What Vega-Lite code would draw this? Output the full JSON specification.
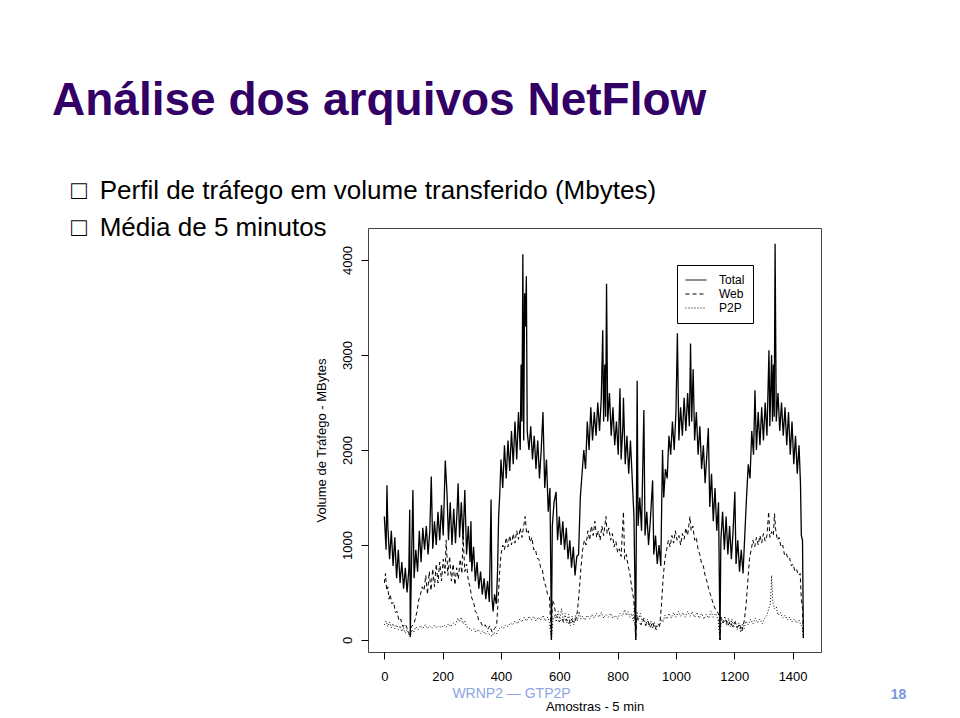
{
"$schema": "https://vega.github.io/schema/vega-lite/v6.json",
"width": 453, "height": 424,
"autosize": {"type": "none"},
"padding": {"left": 368, "top": 228, "right": 139, "bottom": 66},
"background": "white",
"title": {
  "text": "Análise dos arquivos NetFlow",
  "subtitle": ["\u2800□\u2002Perfil de tráfego em volume transferido (Mbytes)", "\u2800□\u2002Média de 5 minutos"],
  "anchor": "start", "frame": "group", "orient": "top",
  "dx": -316, "offset": -14,
  "font": "Liberation Sans", "fontSize": 46, "fontWeight": "bold", "color": "#330066",
  "subtitleFont": "Liberation Sans", "subtitleFontSize": 26, "subtitleColor": "black",
  "subtitleLineHeight": 37, "subtitlePadding": 53
},
"config": {
  "font": "Liberation Sans",
  "view": {"stroke": "#444", "strokeWidth": 1},
  "axis": {"grid": false, "domain": false, "tickColor": "black", "tickSize": 7, "labelColor": "black", "labelFontSize": 13, "titleFontSize": 13, "titleFontWeight": "normal", "titleColor": "black"}
},
"datasets": {
"total": [
{"t":0,"v":1300},{"t":6,"v":950},{"t":9,"v":1630},{"t":12,"v":1200},{"t":18,"v":850},{"t":24,"v":1150},{"t":30,"v":780},{"t":36,"v":1080},{"t":42,"v":650},{"t":48,"v":950},{"t":54,"v":600},{"t":60,"v":820},{"t":66,"v":540},{"t":72,"v":760},{"t":78,"v":500},{"t":84,"v":740},{"t":87,"v":1370},{"t":89,"v":35},{"t":92,"v":600},{"t":98,"v":1580},{"t":102,"v":650},{"t":108,"v":950},{"t":114,"v":720},{"t":120,"v":1150},{"t":126,"v":820},{"t":132,"v":1180},{"t":138,"v":950},{"t":144,"v":1200},{"t":150,"v":900},{"t":156,"v":1150},{"t":161,"v":1720},{"t":166,"v":960},{"t":172,"v":1250},{"t":178,"v":1000},{"t":184,"v":1350},{"t":190,"v":1050},{"t":196,"v":1420},{"t":202,"v":1100},{"t":209,"v":1890},{"t":215,"v":1540},{"t":220,"v":1050},{"t":226,"v":1450},{"t":232,"v":1000},{"t":238,"v":1380},{"t":244,"v":1020},{"t":250,"v":1400},{"t":253,"v":1650},{"t":258,"v":1080},{"t":264,"v":1450},{"t":270,"v":1050},{"t":276,"v":1580},{"t":282,"v":900},{"t":288,"v":1200},{"t":294,"v":820},{"t":297,"v":1250},{"t":300,"v":720},{"t":306,"v":980},{"t":312,"v":620},{"t":318,"v":820},{"t":324,"v":540},{"t":330,"v":720},{"t":336,"v":480},{"t":342,"v":650},{"t":348,"v":430},{"t":354,"v":620},{"t":360,"v":400},{"t":366,"v":1480},{"t":369,"v":450},{"t":373,"v":300},{"t":378,"v":480},{"t":384,"v":380},{"t":388,"v":700},{"t":392,"v":1300},{"t":396,"v":1550},{"t":400,"v":1900},{"t":406,"v":1600},{"t":412,"v":2050},{"t":418,"v":1700},{"t":424,"v":2100},{"t":430,"v":1780},{"t":436,"v":2200},{"t":442,"v":1850},{"t":448,"v":2300},{"t":454,"v":1900},{"t":460,"v":2400},{"t":466,"v":2000},{"t":469,"v":2900},{"t":472,"v":2300},{"t":475,"v":4060},{"t":478,"v":2100},{"t":481,"v":3650},{"t":484,"v":3300},{"t":487,"v":3830},{"t":490,"v":2200},{"t":496,"v":2000},{"t":502,"v":2250},{"t":508,"v":1900},{"t":514,"v":2150},{"t":520,"v":1800},{"t":526,"v":2100},{"t":532,"v":1700},{"t":538,"v":2000},{"t":544,"v":2400},{"t":550,"v":1600},{"t":556,"v":1900},{"t":562,"v":1350},{"t":568,"v":1600},{"t":573,"v":0},{"t":576,"v":1200},{"t":582,"v":1450},{"t":589,"v":1560},{"t":594,"v":1050},{"t":600,"v":1300},{"t":606,"v":1000},{"t":612,"v":1250},{"t":618,"v":950},{"t":624,"v":1180},{"t":630,"v":850},{"t":636,"v":1050},{"t":642,"v":760},{"t":648,"v":980},{"t":654,"v":680},{"t":660,"v":880},{"t":666,"v":900},{"t":672,"v":1500},{"t":678,"v":1750},{"t":684,"v":2000},{"t":690,"v":1800},{"t":696,"v":2300},{"t":702,"v":2000},{"t":708,"v":2450},{"t":714,"v":2100},{"t":720,"v":2400},{"t":726,"v":2150},{"t":732,"v":2500},{"t":738,"v":2200},{"t":744,"v":2550},{"t":749,"v":3260},{"t":752,"v":2300},{"t":756,"v":2900},{"t":759,"v":2350},{"t":762,"v":3750},{"t":766,"v":2300},{"t":772,"v":2600},{"t":778,"v":2150},{"t":784,"v":2450},{"t":790,"v":2050},{"t":796,"v":2300},{"t":802,"v":1950},{"t":808,"v":2650},{"t":812,"v":1900},{"t":818,"v":2250},{"t":820,"v":2550},{"t":826,"v":1850},{"t":832,"v":2150},{"t":838,"v":1750},{"t":844,"v":2100},{"t":850,"v":1700},{"t":856,"v":1300},{"t":862,"v":0},{"t":867,"v":2730},{"t":870,"v":1200},{"t":876,"v":1500},{"t":882,"v":1150},{"t":890,"v":2420},{"t":894,"v":1100},{"t":900,"v":1350},{"t":906,"v":1000},{"t":912,"v":1250},{"t":920,"v":1680},{"t":924,"v":900},{"t":930,"v":1100},{"t":936,"v":800},{"t":942,"v":1000},{"t":948,"v":780},{"t":954,"v":2000},{"t":958,"v":1500},{"t":964,"v":1800},{"t":970,"v":1700},{"t":976,"v":2150},{"t":982,"v":1950},{"t":988,"v":2300},{"t":994,"v":2000},{"t":1000,"v":2400},{"t":1005,"v":3230},{"t":1010,"v":2100},{"t":1016,"v":2450},{"t":1022,"v":2150},{"t":1028,"v":2550},{"t":1034,"v":2200},{"t":1040,"v":2600},{"t":1046,"v":2250},{"t":1050,"v":3120},{"t":1054,"v":2300},{"t":1059,"v":2850},{"t":1064,"v":2100},{"t":1070,"v":2400},{"t":1076,"v":1950},{"t":1082,"v":2250},{"t":1088,"v":1800},{"t":1094,"v":2050},{"t":1100,"v":1650},{"t":1106,"v":1950},{"t":1111,"v":2230},{"t":1116,"v":1400},{"t":1122,"v":1750},{"t":1128,"v":1250},{"t":1134,"v":1600},{"t":1140,"v":1150},{"t":1146,"v":1450},{"t":1151,"v":0},{"t":1154,"v":1050},{"t":1160,"v":1350},{"t":1166,"v":950},{"t":1172,"v":1300},{"t":1178,"v":900},{"t":1184,"v":1200},{"t":1190,"v":850},{"t":1196,"v":1150},{"t":1202,"v":1560},{"t":1206,"v":800},{"t":1212,"v":1050},{"t":1218,"v":720},{"t":1224,"v":950},{"t":1230,"v":700},{"t":1236,"v":1100},{"t":1242,"v":1500},{"t":1248,"v":1850},{"t":1254,"v":1700},{"t":1260,"v":2200},{"t":1266,"v":1950},{"t":1271,"v":2630},{"t":1276,"v":2000},{"t":1282,"v":2400},{"t":1288,"v":2050},{"t":1294,"v":2450},{"t":1300,"v":2100},{"t":1306,"v":2500},{"t":1312,"v":2150},{"t":1319,"v":3050},{"t":1322,"v":2250},{"t":1328,"v":3000},{"t":1331,"v":2300},{"t":1334,"v":2900},{"t":1337,"v":2350},{"t":1340,"v":4170},{"t":1344,"v":2300},{"t":1350,"v":2600},{"t":1356,"v":2200},{"t":1362,"v":2500},{"t":1368,"v":2150},{"t":1374,"v":2450},{"t":1380,"v":2050},{"t":1386,"v":2400},{"t":1392,"v":1950},{"t":1398,"v":2300},{"t":1404,"v":1850},{"t":1410,"v":2150},{"t":1416,"v":1750},{"t":1422,"v":2050},{"t":1427,"v":1650},{"t":1430,"v":1100},{"t":1434,"v":1050},{"t":1437,"v":20}
],
"web": [
{"t":0,"v":600},{"t":4,"v":700},{"t":8,"v":520},{"t":12,"v":560},{"t":16,"v":430},{"t":20,"v":480},{"t":26,"v":380},{"t":32,"v":400},{"t":38,"v":290},{"t":44,"v":300},{"t":50,"v":200},{"t":56,"v":220},{"t":64,"v":140},{"t":72,"v":170},{"t":80,"v":110},{"t":89,"v":35},{"t":92,"v":140},{"t":100,"v":160},{"t":106,"v":220},{"t":112,"v":300},{"t":118,"v":420},{"t":124,"v":480},{"t":130,"v":560},{"t":136,"v":520},{"t":142,"v":680},{"t":148,"v":480},{"t":154,"v":720},{"t":160,"v":520},{"t":166,"v":750},{"t":172,"v":560},{"t":178,"v":800},{"t":184,"v":600},{"t":190,"v":820},{"t":196,"v":620},{"t":202,"v":850},{"t":208,"v":700},{"t":212,"v":1050},{"t":218,"v":680},{"t":224,"v":880},{"t":230,"v":620},{"t":236,"v":800},{"t":242,"v":580},{"t":248,"v":760},{"t":254,"v":640},{"t":260,"v":850},{"t":266,"v":700},{"t":270,"v":1090},{"t":276,"v":720},{"t":282,"v":800},{"t":288,"v":620},{"t":294,"v":560},{"t":300,"v":440},{"t":306,"v":400},{"t":312,"v":300},{"t":318,"v":280},{"t":324,"v":200},{"t":330,"v":190},{"t":338,"v":140},{"t":346,"v":160},{"t":354,"v":110},{"t":362,"v":150},{"t":370,"v":80},{"t":378,"v":120},{"t":385,"v":150},{"t":390,"v":400},{"t":395,"v":700},{"t":400,"v":900},{"t":406,"v":1000},{"t":412,"v":950},{"t":418,"v":1080},{"t":424,"v":980},{"t":430,"v":1100},{"t":436,"v":1000},{"t":442,"v":1120},{"t":448,"v":1020},{"t":454,"v":1150},{"t":460,"v":1060},{"t":466,"v":1180},{"t":472,"v":1080},{"t":478,"v":1200},{"t":483,"v":1300},{"t":488,"v":1120},{"t":494,"v":1150},{"t":500,"v":1030},{"t":506,"v":1080},{"t":512,"v":950},{"t":518,"v":960},{"t":524,"v":860},{"t":530,"v":850},{"t":536,"v":760},{"t":542,"v":740},{"t":548,"v":620},{"t":554,"v":560},{"t":560,"v":480},{"t":566,"v":460},{"t":573,"v":0},{"t":576,"v":420},{"t":582,"v":380},{"t":588,"v":260},{"t":594,"v":240},{"t":600,"v":190},{"t":608,"v":230},{"t":616,"v":180},{"t":624,"v":220},{"t":632,"v":170},{"t":640,"v":230},{"t":648,"v":180},{"t":656,"v":210},{"t":662,"v":300},{"t":668,"v":500},{"t":674,"v":750},{"t":680,"v":950},{"t":686,"v":1050},{"t":692,"v":1000},{"t":698,"v":1150},{"t":704,"v":1050},{"t":710,"v":1200},{"t":716,"v":1100},{"t":722,"v":1250},{"t":728,"v":1080},{"t":734,"v":1150},{"t":740,"v":1050},{"t":746,"v":1200},{"t":752,"v":1100},{"t":760,"v":1300},{"t":764,"v":1120},{"t":770,"v":1180},{"t":776,"v":1050},{"t":782,"v":1120},{"t":788,"v":980},{"t":794,"v":1040},{"t":800,"v":920},{"t":806,"v":960},{"t":812,"v":880},{"t":820,"v":1350},{"t":824,"v":850},{"t":830,"v":900},{"t":836,"v":780},{"t":842,"v":700},{"t":848,"v":560},{"t":854,"v":450},{"t":858,"v":320},{"t":862,"v":0},{"t":866,"v":250},{"t":872,"v":200},{"t":880,"v":160},{"t":888,"v":220},{"t":896,"v":150},{"t":904,"v":200},{"t":912,"v":130},{"t":920,"v":190},{"t":928,"v":110},{"t":936,"v":170},{"t":944,"v":150},{"t":950,"v":350},{"t":956,"v":650},{"t":962,"v":850},{"t":968,"v":950},{"t":974,"v":1050},{"t":980,"v":980},{"t":986,"v":1100},{"t":992,"v":1020},{"t":998,"v":1150},{"t":1004,"v":1050},{"t":1010,"v":1100},{"t":1016,"v":1000},{"t":1022,"v":1120},{"t":1028,"v":1060},{"t":1034,"v":1180},{"t":1040,"v":1100},{"t":1048,"v":1300},{"t":1052,"v":1150},{"t":1058,"v":1200},{"t":1064,"v":1050},{"t":1070,"v":1080},{"t":1076,"v":950},{"t":1082,"v":900},{"t":1088,"v":800},{"t":1094,"v":780},{"t":1100,"v":680},{"t":1106,"v":620},{"t":1112,"v":540},{"t":1118,"v":480},{"t":1124,"v":420},{"t":1130,"v":360},{"t":1136,"v":320},{"t":1142,"v":300},{"t":1148,"v":260},{"t":1151,"v":0},{"t":1154,"v":240},{"t":1162,"v":180},{"t":1170,"v":220},{"t":1178,"v":150},{"t":1186,"v":200},{"t":1194,"v":140},{"t":1202,"v":190},{"t":1210,"v":130},{"t":1218,"v":170},{"t":1226,"v":90},{"t":1234,"v":200},{"t":1240,"v":350},{"t":1246,"v":600},{"t":1252,"v":850},{"t":1258,"v":950},{"t":1264,"v":1050},{"t":1270,"v":980},{"t":1276,"v":1080},{"t":1282,"v":1000},{"t":1288,"v":1100},{"t":1294,"v":1020},{"t":1300,"v":1120},{"t":1306,"v":1040},{"t":1312,"v":1100},{"t":1318,"v":1350},{"t":1322,"v":1080},{"t":1328,"v":1140},{"t":1334,"v":1100},{"t":1338,"v":1330},{"t":1342,"v":1160},{"t":1348,"v":1050},{"t":1354,"v":1080},{"t":1360,"v":980},{"t":1366,"v":1000},{"t":1372,"v":900},{"t":1378,"v":920},{"t":1384,"v":850},{"t":1390,"v":860},{"t":1396,"v":780},{"t":1402,"v":800},{"t":1408,"v":720},{"t":1414,"v":740},{"t":1420,"v":680},{"t":1426,"v":700},{"t":1430,"v":420},{"t":1434,"v":330},{"t":1437,"v":20}
],
"p2p": [
{"t":0,"v":160},{"t":6,"v":200},{"t":12,"v":140},{"t":18,"v":190},{"t":24,"v":130},{"t":30,"v":170},{"t":36,"v":120},{"t":42,"v":160},{"t":48,"v":110},{"t":54,"v":150},{"t":60,"v":90},{"t":66,"v":130},{"t":72,"v":70},{"t":78,"v":110},{"t":84,"v":60},{"t":89,"v":30},{"t":94,"v":110},{"t":100,"v":80},{"t":108,"v":140},{"t":116,"v":110},{"t":124,"v":150},{"t":132,"v":120},{"t":140,"v":160},{"t":148,"v":120},{"t":156,"v":150},{"t":164,"v":125},{"t":172,"v":155},{"t":180,"v":125},{"t":188,"v":150},{"t":196,"v":130},{"t":204,"v":160},{"t":212,"v":135},{"t":220,"v":170},{"t":228,"v":140},{"t":236,"v":180},{"t":244,"v":160},{"t":252,"v":230},{"t":258,"v":190},{"t":264,"v":240},{"t":270,"v":170},{"t":276,"v":200},{"t":282,"v":140},{"t":290,"v":130},{"t":298,"v":100},{"t":306,"v":120},{"t":314,"v":80},{"t":322,"v":110},{"t":330,"v":70},{"t":338,"v":100},{"t":346,"v":60},{"t":354,"v":90},{"t":362,"v":50},{"t":370,"v":40},{"t":376,"v":80},{"t":384,"v":60},{"t":392,"v":110},{"t":400,"v":140},{"t":408,"v":120},{"t":416,"v":160},{"t":424,"v":140},{"t":432,"v":180},{"t":440,"v":160},{"t":448,"v":200},{"t":456,"v":170},{"t":464,"v":220},{"t":472,"v":190},{"t":480,"v":240},{"t":488,"v":200},{"t":496,"v":250},{"t":504,"v":210},{"t":512,"v":250},{"t":520,"v":200},{"t":528,"v":240},{"t":536,"v":210},{"t":544,"v":260},{"t":552,"v":200},{"t":560,"v":240},{"t":566,"v":180},{"t":573,"v":0},{"t":578,"v":200},{"t":584,"v":260},{"t":590,"v":190},{"t":596,"v":300},{"t":602,"v":220},{"t":608,"v":330},{"t":614,"v":200},{"t":620,"v":280},{"t":626,"v":180},{"t":632,"v":270},{"t":638,"v":150},{"t":644,"v":250},{"t":650,"v":160},{"t":656,"v":260},{"t":662,"v":200},{"t":668,"v":300},{"t":674,"v":220},{"t":680,"v":250},{"t":688,"v":210},{"t":696,"v":260},{"t":704,"v":220},{"t":712,"v":270},{"t":720,"v":230},{"t":728,"v":280},{"t":736,"v":240},{"t":744,"v":290},{"t":752,"v":230},{"t":760,"v":270},{"t":768,"v":240},{"t":776,"v":280},{"t":784,"v":230},{"t":792,"v":260},{"t":800,"v":220},{"t":808,"v":280},{"t":816,"v":250},{"t":824,"v":320},{"t":830,"v":260},{"t":836,"v":300},{"t":842,"v":240},{"t":848,"v":280},{"t":854,"v":200},{"t":858,"v":400},{"t":862,"v":0},{"t":866,"v":300},{"t":872,"v":220},{"t":878,"v":280},{"t":884,"v":190},{"t":890,"v":240},{"t":896,"v":160},{"t":902,"v":220},{"t":908,"v":140},{"t":914,"v":200},{"t":920,"v":120},{"t":926,"v":190},{"t":932,"v":100},{"t":938,"v":170},{"t":944,"v":140},{"t":950,"v":220},{"t":956,"v":190},{"t":962,"v":260},{"t":968,"v":220},{"t":976,"v":280},{"t":984,"v":230},{"t":992,"v":290},{"t":1000,"v":240},{"t":1008,"v":300},{"t":1016,"v":250},{"t":1024,"v":290},{"t":1032,"v":240},{"t":1040,"v":300},{"t":1048,"v":250},{"t":1056,"v":300},{"t":1064,"v":240},{"t":1072,"v":290},{"t":1080,"v":230},{"t":1088,"v":280},{"t":1096,"v":220},{"t":1104,"v":270},{"t":1112,"v":230},{"t":1120,"v":300},{"t":1128,"v":240},{"t":1136,"v":280},{"t":1144,"v":220},{"t":1151,"v":0},{"t":1156,"v":240},{"t":1162,"v":180},{"t":1168,"v":250},{"t":1174,"v":150},{"t":1180,"v":230},{"t":1186,"v":140},{"t":1192,"v":220},{"t":1198,"v":130},{"t":1204,"v":200},{"t":1210,"v":110},{"t":1216,"v":180},{"t":1222,"v":80},{"t":1228,"v":170},{"t":1234,"v":120},{"t":1240,"v":200},{"t":1248,"v":160},{"t":1256,"v":220},{"t":1264,"v":170},{"t":1272,"v":230},{"t":1280,"v":180},{"t":1288,"v":220},{"t":1296,"v":170},{"t":1304,"v":230},{"t":1312,"v":260},{"t":1318,"v":330},{"t":1324,"v":380},{"t":1328,"v":680},{"t":1332,"v":400},{"t":1338,"v":330},{"t":1344,"v":350},{"t":1350,"v":260},{"t":1358,"v":290},{"t":1366,"v":230},{"t":1374,"v":260},{"t":1382,"v":210},{"t":1390,"v":240},{"t":1398,"v":190},{"t":1406,"v":220},{"t":1414,"v":180},{"t":1422,"v":210},{"t":1428,"v":160},{"t":1434,"v":140},{"t":1437,"v":20}
]
},
"resolve": {"axis": {"x": "independent", "y": "independent"}},
"layer": [
{
  "data": {"name": "total"},
  "mark": {"type": "line", "color": "black", "strokeWidth": 1.3},
  "encoding": {
    "x": {"field": "t", "type": "quantitative", "scale": {"domain": [-56, 1497.4], "nice": false, "zero": false},
      "axis": {"values": [0,200,400,600,800,1000,1200,1400], "format": "d", "labelPadding": 11, "title": "Amostras - 5 min", "titlePadding": 17}},
    "y": {"field": "v", "type": "quantitative", "scale": {"domain": [-126.3, 4336.8], "nice": false, "zero": false},
      "axis": {"values": [0,1000,2000,3000,4000], "format": "d", "labelAngle": 270, "labelAlign": "center", "labelBaseline": "bottom", "labelPadding": 7, "title": "Volume de Tráfego - MBytes", "titlePadding": 13}},
    "strokeDash": {"datum": "Total", "type": "nominal",
      "scale": {"domain": ["Total", "Web", "P2P"], "range": [[1,0],[4,3],[1,2]]},
      "legend": {"title": null, "orient": "none", "legendX": 309, "legendY": 37, "strokeColor": "black", "padding": 8, "symbolType": "stroke", "symbolSize": 441, "symbolStrokeWidth": 1, "symbolStrokeColor": "black", "labelFontSize": 12, "labelOffset": 12, "rowPadding": 0, "clipHeight": 14, "fillColor": "white"}}
  }
},
{
  "data": {"name": "web"},
  "mark": {"type": "line", "color": "black", "strokeWidth": 1},
  "encoding": {
    "x": {"field": "t", "type": "quantitative", "axis": {"orient": "bottom", "labels": false, "ticks": false, "title": "WRNP2 — GTP2P", "titleColor": "#8EA5E3", "titleFontSize": 14, "titleX": 143, "titleY": 41, "titleBaseline": "middle", "titleAlign": "center"}},
    "y": {"field": "v", "type": "quantitative", "axis": {"orient": "right", "labels": false, "ticks": false, "title": "18", "titleAngle": 0, "titleColor": "#7A96DC", "titleFontSize": 14, "titleFontWeight": "bold", "titleX": 77, "titleY": 466, "titleBaseline": "middle", "titleAlign": "center"}},
    "strokeDash": {"datum": "Web", "type": "nominal"}
  }
},
{
  "data": {"name": "p2p"},
  "mark": {"type": "line", "color": "black", "strokeWidth": 1},
  "encoding": {
    "x": {"field": "t", "type": "quantitative", "axis": null},
    "y": {"field": "v", "type": "quantitative", "axis": null},
    "strokeDash": {"datum": "P2P", "type": "nominal"}
  }
}
]
}
